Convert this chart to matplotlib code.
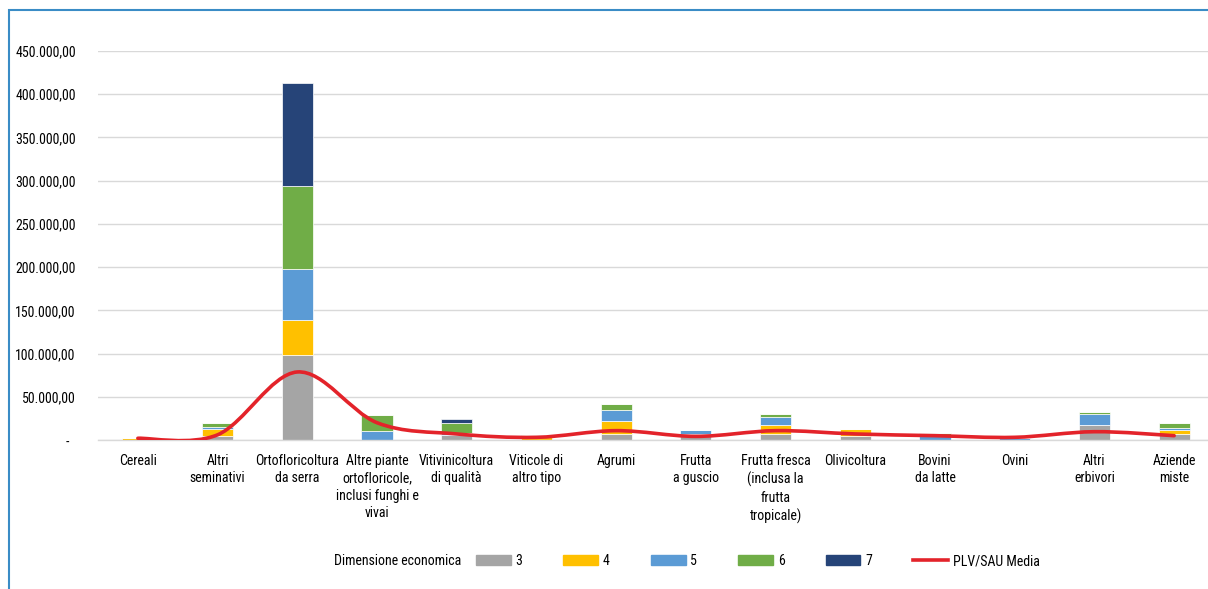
import os
import matplotlib.pyplot as plt
import numpy as np
from matplotlib import font_manager as fm
from matplotlib.path import Path
from matplotlib.patches import PathPatch, Patch, Rectangle
from matplotlib.lines import Line2D
from matplotlib.ticker import FuncFormatter

# Categorie (OTE) e valori per dimensione economica
categorie = [
    "Cereali", "Altri\nseminativi", "Ortofloricoltura\nda serra",
    "Altre piante\nortofloricole,\ninclusi funghi e\nvivai",
    "Vitivinicoltura\ndi qualità", "Viticole di\naltro tipo", "Agrumi",
    "Frutta\na guscio", "Frutta fresca\n(inclusa la\nfrutta\ntropicale)",
    "Olivicoltura", "Bovini\nda latte", "Ovini", "Altri\nerbivori", "Aziende\nmiste",
]
dim_3 = [0, 5000, 98300, 0, 5800, 0, 6600, 5000, 6600, 4200, 0, 0, 17400, 6600]
dim_4 = [2000, 7300, 40500, 0, 0, 4000, 15400, 1500, 10800, 8900, 0, 0, 0, 4600]
dim_5 = [0, 2300, 59000, 10800, 2500, 0, 12700, 4600, 8900, 0, 5500, 2000, 12700, 2300]
dim_6 = [0, 5000, 96100, 18100, 11600, 2000, 6600, 0, 3900, 0, 2500, 0, 2300, 6200]
dim_7 = [0, 0, 119100, 0, 4200, 0, 0, 0, 0, 0, 0, 0, 0, 0]
plv_sau = [2000, 6000, 78700, 20000, 7000, 3100, 10800, 4200, 10800, 7000, 5000, 3100, 9600, 5000]

serie = [dim_3, dim_4, dim_5, dim_6, dim_7]
nomi = ["3", "4", "5", "6", "7"]
colori = ["#a5a5a5", "#ffc000", "#5b9bd5", "#70ad47", "#264478"]

# Cerca un carattere stretto (il grafico originale usa un font condensato)
scelta = None
preferenze = ["liberationsansnarrow", "robotocondensed", "notosans", "dejavusanscondensed", "opensans"]
candidati = []
for f in fm.fontManager.ttflist:
    fn = os.path.basename(f.fname).lower().replace("-", "").replace("_", "")
    if ("narrow" in fn or "condensed" in fn) and f.style == "normal":
        if any(k in fn for k in ["bold", "italic", "light", "thin", "medium", "black", "semi", "extra", "ultra"]):
            continue
        candidati.append((fn, f))
for p in preferenze:
    for fn, f in candidati:
        if fn.startswith(p):
            scelta = f
            break
    if scelta is not None:
        break
if scelta is None and candidati:
    scelta = candidati[0][1]

if scelta is not None:
    plt.rcParams["font.family"] = [scelta.name, "DejaVu Sans"]
    plt.rcParams["font.stretch"] = scelta.stretch
    fs = 10
else:
    plt.rcParams["font.family"] = ["DejaVu Sans"]
    fs = 7.5

fig = plt.figure(figsize=(12.08, 5.89), dpi=100)
ax = fig.add_axes([98 / 1208, 149 / 589, 1116 / 1208, 389 / 589])

x = np.arange(len(categorie))
base = np.zeros(len(categorie))
for vals, col in zip(serie, colori):
    ax.bar(x, vals, 0.39, bottom=base, color=col, edgecolor="white", linewidth=0.5, zorder=2)
    base += np.array(vals)

# Linea smussata (stile Excel: Bezier con tangenti Catmull-Rom)
px = np.array(x, dtype=float)
py = np.array(plv_sau, dtype=float)
verts = [(px[0], py[0])]
codes = [Path.MOVETO]
n = len(px)
for i in range(n - 1):
    p0 = i - 1 if i > 0 else i
    p3 = i + 2 if i + 2 < n else i + 1
    c1 = (px[i] + (px[i + 1] - px[p0]) / 6, py[i] + (py[i + 1] - py[p0]) / 6)
    c2 = (px[i + 1] - (px[p3] - px[i]) / 6, py[i + 1] - (py[p3] - py[i]) / 6)
    verts += [c1, c2, (px[i + 1], py[i + 1])]
    codes += [Path.CURVE4] * 3
ax.add_patch(PathPatch(Path(verts, codes), fill=False, edgecolor="#e3232a",
                       linewidth=2.6, capstyle="round", zorder=3))

ax.set_xlim(-0.5, len(categorie) - 0.5)
ax.set_ylim(0, 450000)
ax.set_yticks(np.arange(0, 450001, 50000))


def fmt(v, pos):
    if v == 0:
        return "-  "
    return f"{v:,.2f}".replace(",", "X").replace(".", ",").replace("X", ".")


ax.yaxis.set_major_formatter(FuncFormatter(fmt))
ax.set_xticks(x)
ax.set_xticklabels(categorie, fontsize=fs, linespacing=1.32, va="top")
ax.tick_params(axis="x", length=0, pad=10)
ax.tick_params(axis="y", length=0, pad=16, labelsize=fs)
ax.grid(axis="y", color="#d9d9d9", linewidth=1, zorder=0)
ax.set_axisbelow(True)
for s in ["top", "right", "left"]:
    ax.spines[s].set_visible(False)
ax.spines["bottom"].set_color("#d9d9d9")
ax.spines["bottom"].set_linewidth(1)

# Cornice del grafico
fig.patches.append(Rectangle((9 / 1208, -0.1), 1.2, (589 - 10) / 589 + 0.1,
                             transform=fig.transFigure, fill=False,
                             edgecolor="#3a8cc6", linewidth=1.5))

# Legenda
fig.text(334 / 1208, 28 / 589, "Dimensione economica", fontsize=fs, ha="left", va="center")
handles = [Patch(color=c) for c in colori] + [Line2D([0], [0], color="#e3232a", linewidth=2.6)]
labels = nomi + ["PLV/SAU Media"]
fig.legend(handles, labels, loc="center left", bbox_to_anchor=(476 / 1208, 28 / 589),
           ncol=6, frameon=False, fontsize=fs, handlelength=2.5, handletextpad=0.35,
           columnspacing=2.95, borderpad=0, borderaxespad=0)

fig.savefig("out.png", dpi=100)
